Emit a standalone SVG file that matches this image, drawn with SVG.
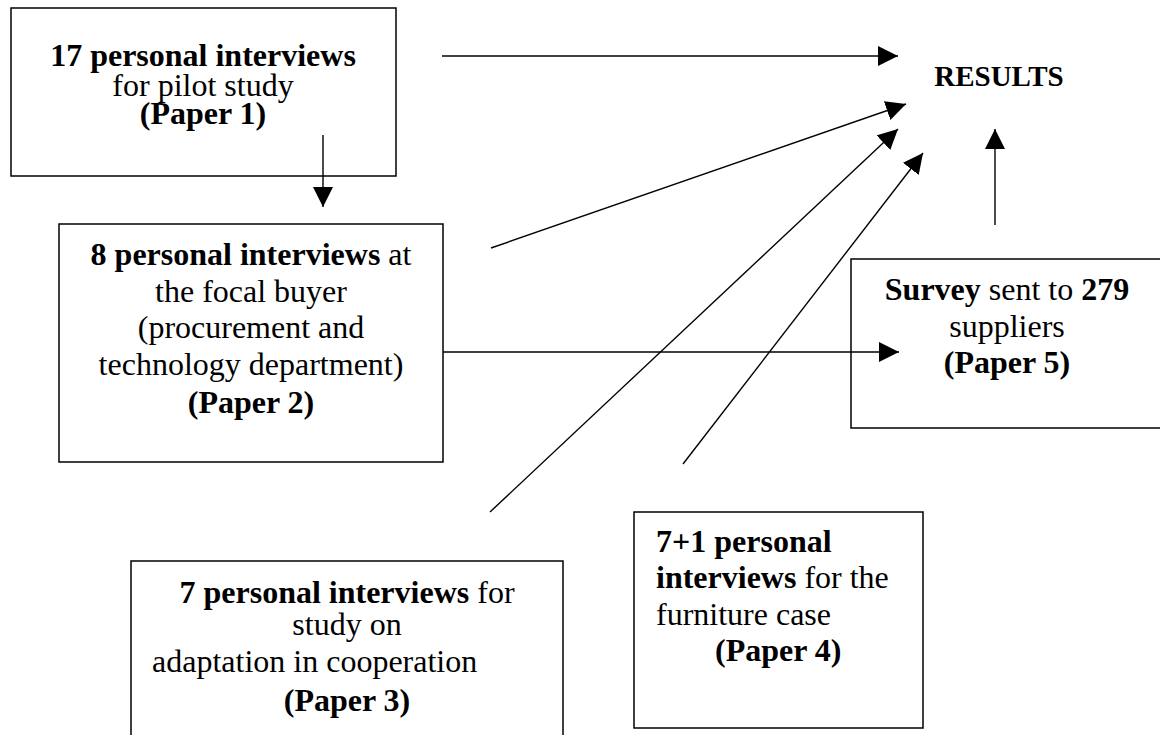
<svg xmlns="http://www.w3.org/2000/svg" width="1160" height="735" viewBox="0 0 1160 735">
<style>
.box{fill:none;stroke:#000;stroke-width:1.5}
.t{font-family:"Liberation Serif","Times New Roman",serif;font-size:32px;fill:#000}
.c{text-anchor:middle}
.b{font-weight:bold}
.ln{stroke:#000;stroke-width:1.4;fill:none;marker-end:url(#ah)}
</style>
<defs>
<marker id="ah" markerUnits="userSpaceOnUse" markerWidth="20" markerHeight="20" refX="20" refY="10" orient="auto">
<path d="M0,0 L20,10 L0,20 z" fill="#000"/>
</marker>
</defs>
<rect width="1160" height="735" fill="#fff"/>
<g id="results">
<text class="t b" x="999" y="86" text-anchor="middle" style="font-size:29px">RESULTS</text>
</g>
<g id="node1">
<rect class="box" x="11" y="8" width="385" height="168"/>
<text class="t c" x="203" y="66"><tspan class="b">17 personal interviews</tspan></text>
<text class="t c" x="203" y="96">for pilot study</text>
<text class="t c b" x="203" y="124">(Paper 1)</text>
</g>
<g id="node2">
<rect class="box" x="59" y="224" width="384" height="238"/>
<text class="t c" x="251" y="265"><tspan class="b">8 personal interviews</tspan> at</text>
<text class="t c" x="251" y="302">the focal buyer</text>
<text class="t c" x="251" y="338">(procurement and</text>
<text class="t c" x="251" y="375">technology department)</text>
<text class="t c b" x="251" y="413">(Paper 2)</text>
</g>
<g id="node5">
<rect class="box" x="851" y="259" width="320" height="169"/>
<text class="t c" x="1007" y="300"><tspan class="b">Survey</tspan> sent to <tspan class="b">279</tspan></text>
<text class="t c" x="1007" y="337">suppliers</text>
<text class="t c b" x="1007" y="373">(Paper 5)</text>
</g>
<g id="node3">
<rect class="box" x="131" y="561" width="432" height="190"/>
<text class="t c" x="347" y="603"><tspan class="b">7 personal interviews</tspan> for</text>
<text class="t c" x="347" y="635">study on</text>
<text class="t" x="152" y="672">adaptation in cooperation</text>
<text class="t c b" x="347" y="711">(Paper 3)</text>
</g>
<g id="node4">
<rect class="box" x="634" y="512" width="289" height="216"/>
<text class="t b" x="656" y="552">7+1 personal</text>
<text class="t" x="656" y="588"><tspan class="b">interviews</tspan> for the</text>
<text class="t" x="656" y="625">furniture case</text>
<text class="t b" x="715" y="661">(Paper 4)</text>
</g>
<g id="connectors">
<line class="ln" x1="442" y1="56" x2="898" y2="56"/>
<line class="ln" x1="323" y1="135" x2="323" y2="207"/>
<line class="ln" x1="491" y1="248" x2="906" y2="104"/>
<line class="ln" x1="490" y1="512" x2="898" y2="129"/>
<line class="ln" x1="683" y1="464" x2="923" y2="153"/>
<line class="ln" x1="995" y1="225" x2="995" y2="129"/>
<line class="ln" x1="443" y1="352" x2="899" y2="352"/>
</g>
</svg>
